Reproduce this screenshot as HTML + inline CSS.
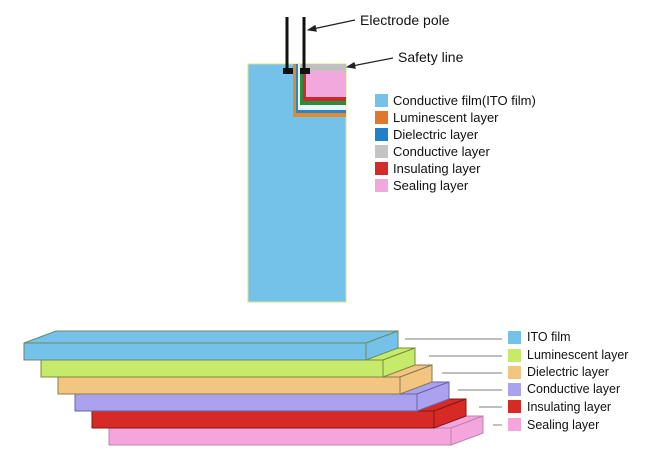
<!DOCTYPE html>
<html><head><meta charset="utf-8"><style>
html,body{margin:0;padding:0;background:#fff;}
svg{display:block;font-family:"Liberation Sans",Arial,sans-serif;}
</style></head><body>
<svg width="650" height="476" viewBox="0 0 650 476" xmlns="http://www.w3.org/2000/svg">
<defs><marker id="ah" markerWidth="8" markerHeight="6" refX="7" refY="3" orient="auto"><path d="M0,0 L8,3 L0,6 z" fill="#222"/></marker></defs>
<!-- top structure -->
<rect x="248" y="64" width="98" height="238" fill="#74c2ea" stroke="#d6e48a" stroke-width="1"/>
<rect x="293" y="64" width="53" height="53" fill="#e28a2e"/>
<rect x="296" y="64" width="50" height="49" fill="#2a86c8"/>
<rect x="298" y="64" width="48" height="46" fill="#e8f6fb"/>
<rect x="300" y="64" width="46" height="41" fill="#2e8b3e"/>
<rect x="303" y="64" width="43" height="37" fill="#cc2a2a"/>
<rect x="306" y="64" width="40" height="33" fill="#f2a8dc"/>
<rect x="300" y="64" width="46" height="7" fill="#c0c0c0"/>
<line x1="287" y1="17" x2="287" y2="70" stroke="#111" stroke-width="3"/>
<line x1="304" y1="17" x2="304" y2="70" stroke="#111" stroke-width="3"/>
<rect x="283" y="68" width="10" height="6" fill="#111"/>
<rect x="300" y="68" width="10" height="6" fill="#111"/>
<line x1="355" y1="20" x2="308" y2="30" stroke="#222" stroke-width="1.2" marker-end="url(#ah)"/>
<text x="360" y="25" font-size="14" fill="#111">Electrode pole</text>
<line x1="393" y1="58" x2="347" y2="67" stroke="#222" stroke-width="1.2" marker-end="url(#ah)"/>
<text x="398" y="62" font-size="14" fill="#111">Safety line</text>
<g font-size="13" fill="#111">
<rect x="375" y="94" width="13" height="13" fill="#74c2ea"/><text x="393" y="105">Conductive film(ITO film)</text>
<rect x="375" y="111" width="13" height="13" fill="#e0782a"/><text x="393" y="122">Luminescent layer</text>
<rect x="375" y="128" width="13" height="13" fill="#1f82c8"/><text x="393" y="139">Dielectric layer</text>
<rect x="375" y="145" width="13" height="13" fill="#c4c4c4"/><text x="393" y="156">Conductive layer</text>
<rect x="375" y="162" width="13" height="13" fill="#d42a2a"/><text x="393" y="173">Insulating layer</text>
<rect x="375" y="179" width="13" height="13" fill="#f2a8dc"/><text x="393" y="190">Sealing layer</text>
</g>
<!-- slabs: bottom first -->
<g stroke-width="1">
<g transform="translate(85,85)" fill="#f4a6dc" stroke="#c080b0"><polygon points="24,343 56,331 398,331 366,343"/><polygon points="366,343 398,331 398,348 366,360"/><rect x="24" y="343" width="342" height="17"/></g>
<g transform="translate(68,68)" fill="#d82a24" stroke="#801818"><polygon points="24,343 56,331 398,331 366,343"/><polygon points="366,343 398,331 398,348 366,360"/><rect x="24" y="343" width="342" height="17"/></g>
<g transform="translate(51,51)" fill="#aaa2ee" stroke="#6a64a8"><polygon points="24,343 56,331 398,331 366,343"/><polygon points="366,343 398,331 398,348 366,360"/><rect x="24" y="343" width="342" height="17"/></g>
<g transform="translate(34,34)" fill="#f2c680" stroke="#8a7a50"><polygon points="24,343 56,331 398,331 366,343"/><polygon points="366,343 398,331 398,348 366,360"/><rect x="24" y="343" width="342" height="17"/></g>
<g transform="translate(17,17)" fill="#c6ea6a" stroke="#7a8a40"><polygon points="24,343 56,331 398,331 366,343"/><polygon points="366,343 398,331 398,348 366,360"/><rect x="24" y="343" width="342" height="17"/></g>
<g fill="#74c2ea" stroke="#6a8a60"><polygon points="24,343 56,331 398,331 366,343"/><polygon points="366,343 398,331 398,348 366,360"/><rect x="24" y="343" width="342" height="17"/></g>
</g>
<g stroke="#999" stroke-width="1.2">
<line x1="405" y1="339" x2="502" y2="339"/><line x1="429" y1="356" x2="502" y2="356"/>
<line x1="442" y1="373" x2="502" y2="373"/><line x1="458" y1="390" x2="502" y2="390"/>
<line x1="479" y1="407" x2="502" y2="407"/><line x1="493" y1="425" x2="502" y2="425"/>
</g>
<g font-size="12.5" fill="#111">
<rect x="508" y="331" width="13" height="13" fill="#74c2ea"/><text x="527" y="341">ITO film</text>
<rect x="508" y="349" width="13" height="13" fill="#c6ea6a"/><text x="527" y="359">Luminescent layer</text>
<rect x="508" y="366" width="13" height="13" fill="#f2c680"/><text x="527" y="376">Dielectric layer</text>
<rect x="508" y="383" width="13" height="13" fill="#aaa2ee"/><text x="527" y="393">Conductive layer</text>
<rect x="508" y="400" width="13" height="13" fill="#d82a24"/><text x="527" y="411">Insulating layer</text>
<rect x="508" y="418" width="13" height="13" fill="#f4a6dc"/><text x="527" y="429">Sealing layer</text>
</g>
</svg>
</body></html>
